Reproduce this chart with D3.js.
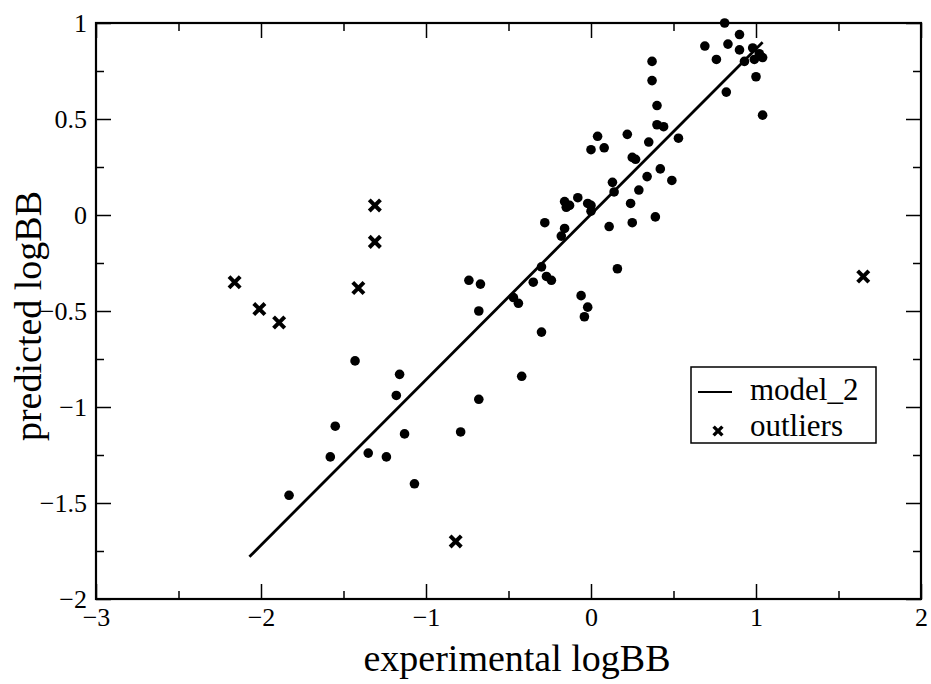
<!DOCTYPE html>
<html>
<head>
<meta charset="utf-8">
<script src="https://cdn.jsdelivr.net/npm/d3@7"></script>
<style>
  body { margin: 0; background: #fff; }
  svg { display: block; }
  svg text { font-family: "Liberation Serif", "Times New Roman", serif; fill: #000; }
</style>
</head>
<body>
<div id="chart"></div>
<script>
// experimental vs predicted logBB, points fitted by model_2
const expLogBB = [
    -1.83, -1.58, -1.55, -1.43, -1.35, -1.24, -1.16, -1.18, -1.13, -1.07,
    -0.79, -0.68, -0.68, -0.74, -0.67, -0.42, -0.47, -0.44, -0.35, -0.30,
    -0.30, -0.27, -0.24, -0.28, -0.18, -0.16, -0.16, -0.15, -0.13, -0.08,
    -0.06, -0.02, -0.04, -0.02, 0.00, 0.00, 0.11, 0.16, 0.13, 0.14,
    0.24, 0.25, 0.29, 0.25, 0.27, 0.34, 0.39, 0.42, 0.49, 0.04,
    0.00, 0.08, 0.22, 0.35, 0.40, 0.44, 0.53, 0.40, 0.37, 0.37,
    0.69, 0.76, 0.81, 0.83, 0.90, 0.90, 0.93, 0.98, 0.99, 1.02,
    1.04, 1.00, 0.82, 1.04,
];
const predLogBB = [
    -1.46, -1.26, -1.10, -0.76, -1.24, -1.26, -0.83, -0.94, -1.14, -1.40,
    -1.13, -0.96, -0.50, -0.34, -0.36, -0.84, -0.43, -0.46, -0.35, -0.61,
    -0.27, -0.32, -0.34, -0.04, -0.11, -0.07, 0.07, 0.04, 0.05, 0.09,
    -0.42, -0.48, -0.53, 0.06, 0.05, 0.02, -0.06, -0.28, 0.17, 0.12,
    0.06, -0.04, 0.13, 0.30, 0.29, 0.20, -0.01, 0.24, 0.18, 0.41,
    0.34, 0.35, 0.42, 0.38, 0.47, 0.46, 0.40, 0.57, 0.80, 0.70,
    0.88, 0.81, 1.00, 0.89, 0.86, 0.94, 0.80, 0.87, 0.81, 0.84,
    0.82, 0.72, 0.64, 0.52,
];

const outlierExp = [-1.31, -1.31, -1.41, -2.16, -2.01, -1.89, -0.82, 1.65];
const outlierPred = [0.05, -0.14, -0.38, -0.35, -0.49, -0.56, -1.70, -0.32];

const modelLineX = [-2.07, 1.04];
const modelLineY = [-1.78, 0.90];

const xMajorTicks = [-3, -2, -1, 0, 1, 2];
const xMinorTicks = [-2.5, -1.5, -0.5, 0.5, 1.5];
const yMajorTicks = [-2, -1.5, -1, -0.5, 0, 0.5, 1];
const yMinorTicks = [-1.75, -1.25, -0.75, -0.25, 0.25, 0.75];

const legendLabels = ['model_2', 'outliers'];

const config = {
    width: 931,
    height: 684,
    margins: { top: 23, right: 10, bottom: 85, left: 96 },
};

const fmt = v => String(v).replace('-', '\u2212');

// plain x marker, half-size r
function crossPath(r) {
    const p = d3.path();
    p.moveTo(-r, -r); p.lineTo(r, r);
    p.moveTo(-r, r); p.lineTo(r, -r);
    return p.toString();
}

function drawChart(cfg) {
    const innerW = cfg.width - cfg.margins.left - cfg.margins.right;
    const innerH = cfg.height - cfg.margins.top - cfg.margins.bottom;

    const svg = d3.select('#chart').append('svg')
        .attr('width', cfg.width)
        .attr('height', cfg.height);

    const g = svg.append('g')
        .attr('transform', `translate(${cfg.margins.left},${cfg.margins.top})`);

    const x = d3.scaleLinear().domain([-3, 2]).range([0, innerW]);
    const y = d3.scaleLinear().domain([-2, 1]).range([innerH, 0]);

    // ticks on all four sides, pointing inward
    const axes = [
        { gen: d3.axisBottom, scale: x, tr: `translate(0,${innerH})`, major: xMajorTicks, minor: xMinorTicks, labels: true },
        { gen: d3.axisTop, scale: x, tr: 'translate(0,0)', major: xMajorTicks, minor: xMinorTicks, labels: false },
        { gen: d3.axisLeft, scale: y, tr: 'translate(0,0)', major: yMajorTicks, minor: yMinorTicks, labels: true },
        { gen: d3.axisRight, scale: y, tr: `translate(${innerW},0)`, major: yMajorTicks, minor: yMinorTicks, labels: false },
    ];

    axes.forEach(a => {
        const majorG = g.append('g').attr('transform', a.tr)
            .call(a.gen(a.scale).tickValues(a.major).tickSizeInner(-15).tickSizeOuter(0)
                .tickPadding(9)
                .tickFormat(a.labels ? fmt : ''));
        const minorG = g.append('g').attr('transform', a.tr)
            .call(a.gen(a.scale).tickValues(a.minor).tickSizeInner(-8).tickSizeOuter(0).tickFormat(''));
        [majorG, minorG].forEach(sel => {
            sel.attr('font-family', null).attr('font-size', 26);
            sel.select('.domain').remove();
            sel.selectAll('.tick line').attr('stroke', '#000').attr('stroke-width', 1.5);
        });
    });

    // frame
    g.append('rect')
        .attr('x', 0).attr('y', 0)
        .attr('width', innerW).attr('height', innerH)
        .attr('fill', 'none')
        .attr('stroke', '#000')
        .attr('stroke-width', 2.2);

    // regression line
    const lineData = modelLineX.map((v, i) => [v, modelLineY[i]]);
    g.append('path')
        .datum(lineData)
        .attr('d', d3.line().x(d => x(d[0])).y(d => y(d[1])))
        .attr('fill', 'none')
        .attr('stroke', '#000')
        .attr('stroke-width', 2.8);

    // data points
    g.selectAll('.pt')
        .data(expLogBB.map((v, i) => [v, predLogBB[i]]))
        .enter()
        .append('circle')
        .attr('class', 'pt')
        .attr('cx', d => x(d[0]))
        .attr('cy', d => y(d[1]))
        .attr('r', 4.8)
        .attr('fill', '#000');

    // outliers
    g.selectAll('.outlier')
        .data(outlierExp.map((v, i) => [v, outlierPred[i]]))
        .enter()
        .append('path')
        .attr('class', 'outlier')
        .attr('transform', d => `translate(${x(d[0])},${y(d[1])})`)
        .attr('d', crossPath(5.6))
        .attr('fill', 'none')
        .attr('stroke', '#000')
        .attr('stroke-width', 4);

    // axis titles
    svg.append('text')
        .attr('x', 517)
        .attr('y', 671)
        .attr('text-anchor', 'middle')
        .attr('font-size', 38)
        .text('experimental logBB');

    svg.append('text')
        .attr('transform', 'translate(41,316) rotate(-90)')
        .attr('text-anchor', 'middle')
        .attr('font-size', 38)
        .text('predicted logBB');

    // legend
    const lg = svg.append('g').attr('transform', 'translate(691,367)');
    lg.append('rect')
        .attr('width', 185).attr('height', 76)
        .attr('fill', '#fff')
        .attr('stroke', '#000')
        .attr('stroke-width', 1.5);
    lg.append('line')
        .attr('x1', 7).attr('x2', 41)
        .attr('y1', 25).attr('y2', 25)
        .attr('stroke', '#000')
        .attr('stroke-width', 2.2);
    lg.append('path')
        .attr('transform', 'translate(27,64)')
        .attr('d', crossPath(4.4))
        .attr('fill', 'none')
        .attr('stroke', '#000')
        .attr('stroke-width', 3.4);
    lg.selectAll('.lg-text')
        .data(legendLabels)
        .enter()
        .append('text')
        .attr('class', 'lg-text')
        .attr('x', 59)
        .attr('y', (d, i) => 33 + i * 36)
        .attr('font-size', 31)
        .text(d => d);
}

drawChart(config);
</script>
</body>
</html>
